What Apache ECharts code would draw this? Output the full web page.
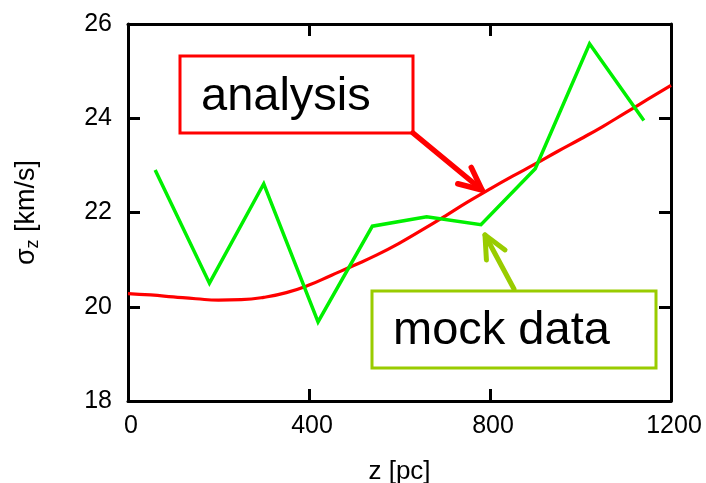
<!DOCTYPE html>
<html>
<head>
<meta charset="utf-8">
<script src="https://cdn.jsdelivr.net/npm/echarts@6/dist/echarts.min.js"></script>
<style>
  html, body { margin: 0; padding: 0; background: #fff; }
  #chart { width: 706px; height: 483px; }
</style>
</head>
<body>
<div id="chart"></div>
<script>
// Height above the midplane (pc) and vertical velocity dispersion (km/s)
const mockZ = [60, 180, 300, 420, 540, 660, 780, 900, 1020, 1140];
const mockSigma = [22.90, 20.50, 22.61, 19.68, 21.71, 21.91, 21.74, 22.93, 25.58, 23.95];

const modelZ = [0, 50, 100, 150, 200, 250, 300, 350, 400, 450, 500, 550, 600,
                650, 700, 750, 800, 850, 900, 950, 1000, 1050, 1100, 1150, 1200];
const modelSigma = [20.28, 20.25, 20.21, 20.17, 20.14, 20.15, 20.20, 20.30, 20.46, 20.67, 20.88, 21.10, 21.35,
                    21.63, 21.92, 22.22, 22.50, 22.77, 23.03, 23.30, 23.56, 23.83, 24.12, 24.41, 24.70];

const xTicks = [0, 400, 800, 1200];
const yTicks = [18, 20, 22, 24, 26];

const FONT = '"Liberation Sans", Arial, sans-serif';
const RED = '#ff0000';
const GREEN = '#00f000';
const OLIVE = '#99cc00';

const chart = echarts.init(document.getElementById('chart'), null, { renderer: 'canvas' });

function frameAxis(pos, isX, showLabels, ticks) {
  const ax = {
    type: 'value',
    position: pos,
    min: ticks[0],
    max: ticks[ticks.length - 1],
    interval: ticks[1] - ticks[0],
    axisLine: { show: true, onZero: false, lineStyle: { color: '#000', width: 3 } },
    axisTick: { show: true, inside: true, length: 12, lineStyle: { color: '#000', width: 3 } },
    splitLine: { show: false },
    axisLabel: {
      show: showLabels,
      color: '#000',
      fontFamily: FONT,
      fontSize: 25,
      margin: isX ? 13 : 16,
      formatter: v => String(v)
    }
  };
  if (isX && showLabels) ax.axisLabel.padding = [0, 0, 0, 6];
  return ax;
}

const xMain = frameAxis('bottom', true, true, xTicks);
xMain.name = 'z [pc]';
xMain.nameLocation = 'middle';
xMain.nameGap = 58;
xMain.nameTextStyle = { color: '#000', fontFamily: FONT, fontSize: 26 };

const yMain = frameAxis('left', false, true, yTicks);
yMain.name = 'σ{sub|z} [km/s]';
yMain.nameLocation = 'middle';
yMain.nameGap = 86;
yMain.nameTextStyle = {
  color: '#000', fontFamily: FONT, fontSize: 27,
  rich: { sub: { fontFamily: FONT, fontSize: 18, color: '#000', verticalAlign: 'bottom', padding: [12, 0, 0, 0] } }
};

const xTop = frameAxis('top', true, false, xTicks);
const yRight = frameAxis('right', false, false, yTicks);

chart.setOption({
  animation: false,
  backgroundColor: '#fff',
  grid: { left: 128, right: 35, top: 24, bottom: 82, containLabel: false, outerBoundsMode: 'none' },
  xAxis: [xMain, xTop],
  yAxis: [yMain, yRight],
  series: [
    {
      name: 'analysis',
      type: 'line',
      xAxisIndex: 0, yAxisIndex: 0,
      data: modelZ.map((z, i) => [z, modelSigma[i]]),
      smooth: 0.5,
      showSymbol: false,
      lineStyle: { color: RED, width: 3.2 },
      z: 2
    },
    {
      name: 'mock data',
      type: 'line',
      xAxisIndex: 0, yAxisIndex: 0,
      data: mockZ.map((z, i) => [z, mockSigma[i]]),
      showSymbol: false,
      lineStyle: { color: GREEN, width: 3.5, join: 'miter' },
      z: 3
    }
  ]
});

// Open V-shaped arrow: shaft from (x0,y0) to tip (x1,y1)
function arrow(x0, y0, x1, y1, color, width) {
  const ang = Math.atan2(y0 - y1, x0 - x1);
  const len = 25, spread = 25 * Math.PI / 180;
  const b1 = [x1 + len * Math.cos(ang - spread), y1 + len * Math.sin(ang - spread)];
  const b2 = [x1 + len * Math.cos(ang + spread), y1 + len * Math.sin(ang + spread)];
  const style = { stroke: color, lineWidth: width, lineCap: 'round', lineJoin: 'round', fill: null };
  return [
    { type: 'polyline', z: 10, shape: { points: [[x0, y0], [x1, y1]] }, style },
    { type: 'polyline', z: 10, shape: { points: [b1, [x1, y1], b2] }, style }
  ];
}

const labelBox = (x, y, w, h, color) => ({
  type: 'rect', z: 10,
  shape: { x, y, width: w, height: h },
  style: { fill: '#fff', stroke: color, lineWidth: 3 }
});

const labelText = (x, y, text, size) => ({
  type: 'text', z: 11,
  x, y,
  style: { text, fill: '#000', font: size + 'px ' + FONT, textVerticalAlign: 'middle', verticalAlign: 'middle' }
});

chart.setOption({
  graphic: [
    labelBox(180, 56, 233, 77, RED),
    labelText(201, 97, 'analysis', 47),
    ...arrow(413, 133, 482, 190, RED, 5.5),
    labelBox(372, 291, 284, 77, OLIVE),
    labelText(393, 331, 'mock data', 47),
    ...arrow(514, 289, 485, 235, OLIVE, 5)
  ]
});
</script>
</body>
</html>
